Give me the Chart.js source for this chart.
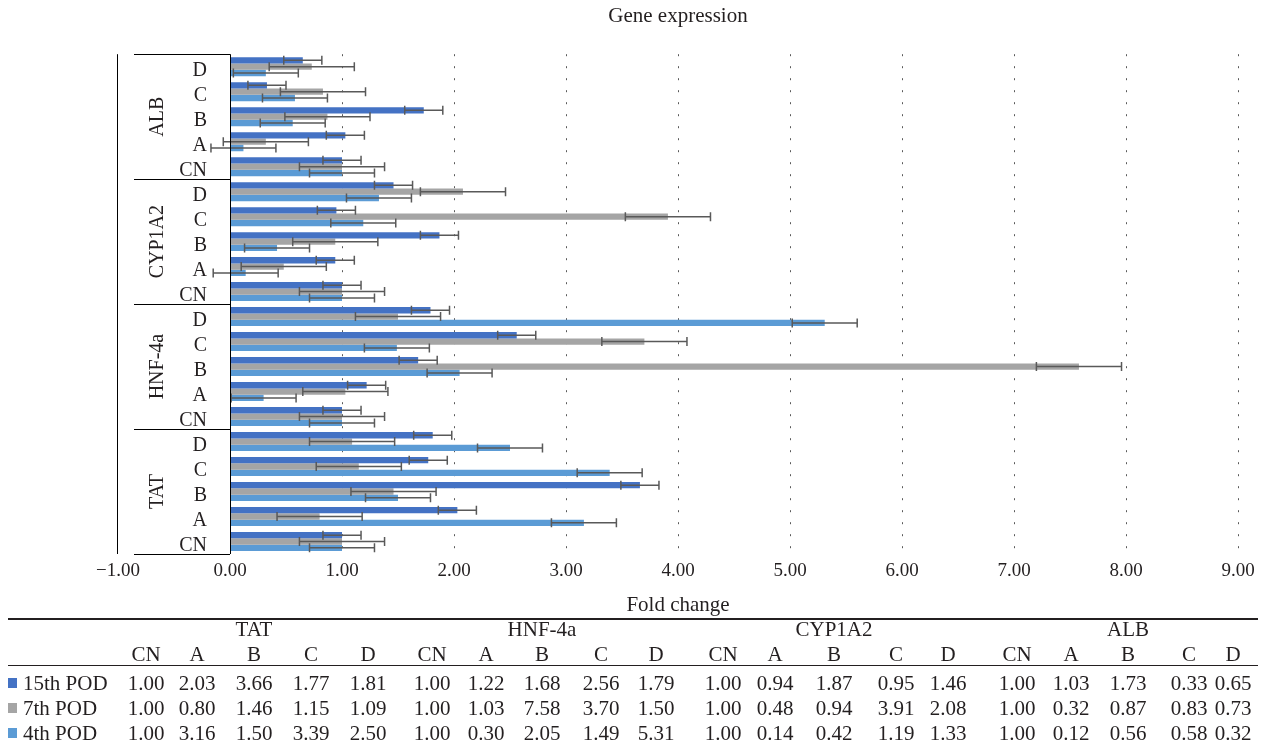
<!DOCTYPE html>
<html>
<head>
<meta charset="utf-8">
<title>Gene expression</title>
<script src="https://cdn.jsdelivr.net/npm/chart.js@4.4.0/dist/chart.umd.min.js"></script>
<style>
  body { margin: 0; background: #fff; }
  #wrap { position: relative; width: 1268px; height: 750px; font-family: "Liberation Serif", serif; color: #231f20; }
  #grafico { position: absolute; left: 0; top: 0; }
  .cel { position: absolute; font-size: 21px; line-height: 20px; white-space: nowrap; transform: translateX(-50%); }
  .rot { position: absolute; font-size: 21px; line-height: 20px; white-space: nowrap; left: 23px; }
  .quad { position: absolute; left: 8px; width: 9px; height: 10px; }
  .linha { position: absolute; left: 8px; width: 1250px; background: #231f20; }
</style>
</head>
<body>
<div id="wrap">
  <canvas id="grafico" width="1268" height="750"></canvas>
  <div id="tabela"></div>
</div>
<script>
const genes = ['TAT', 'HNF-4a', 'CYP1A2', 'ALB'];
const grupos = ['CN', 'A', 'B', 'C', 'D'];
const series = ['15th POD', '7th POD', '4th POD'];
const cores = ['#4472C4', '#A5A5A5', '#5B9BD5'];

const pod15 = [1.00, 2.03, 3.66, 1.77, 1.81, 1.00, 1.22, 1.68, 2.56, 1.79, 1.00, 0.94, 1.87, 0.95, 1.46, 1.00, 1.03, 1.73, 0.33, 0.65];
const pod7  = [1.00, 0.80, 1.46, 1.15, 1.09, 1.00, 1.03, 7.58, 3.70, 1.50, 1.00, 0.48, 0.94, 3.91, 2.08, 1.00, 0.32, 0.87, 0.83, 0.73];
const pod4  = [1.00, 3.16, 1.50, 3.39, 2.50, 1.00, 0.30, 2.05, 1.49, 5.31, 1.00, 0.14, 0.42, 1.19, 1.33, 1.00, 0.12, 0.56, 0.58, 0.32];

// error bars (same size for each series)
const erro15 = [0.17, 0.17, 0.17, 0.17, 0.17, 0.17, 0.17, 0.17, 0.17, 0.17, 0.17, 0.17, 0.17, 0.17, 0.17, 0.17, 0.17, 0.17, 0.17, 0.17];
const erro7  = [0.38, 0.38, 0.38, 0.38, 0.38, 0.38, 0.38, 0.38, 0.38, 0.38, 0.38, 0.38, 0.38, 0.38, 0.38, 0.38, 0.38, 0.38, 0.38, 0.38];
const erro4  = [0.29, 0.29, 0.29, 0.29, 0.29, 0.29, 0.29, 0.29, 0.29, 0.29, 0.29, 0.29, 0.29, 0.29, 0.29, 0.29, 0.29, 0.29, 0.29, 0.29];

const ticksX = [-1, 0, 1, 2, 3, 4, 5, 6, 7, 8, 9];

const rotulos = [];
genes.forEach(g => grupos.forEach(s => rotulos.push(g + ' ' + s)));

function formatar(v) {
  return (v < 0 ? '\u2212' : '') + Math.abs(v).toFixed(2);
}

const eixoCategorias = {
  id: 'eixoCategorias',
  afterDatasetsDraw(chart) {
    const { ctx, scales: { x } } = chart;
    const erros = [erro15, erro7, erro4];
    chart.data.datasets.forEach((ds, i) => {
      const meta = chart.getDatasetMeta(i);
      meta.data.forEach((bar, j) => {
        const v = ds.data[j];
        const e = erros[i][j];
        const x1 = x.getPixelForValue(v - e);
        const x2 = x.getPixelForValue(v + e);
        ctx.save();
        ctx.strokeStyle = '#595959';
        ctx.lineWidth = 1.5;
        ctx.beginPath();
        ctx.moveTo(x1, bar.y); ctx.lineTo(x2, bar.y);
        ctx.moveTo(x1, bar.y - 4.5); ctx.lineTo(x1, bar.y + 4.5);
        ctx.moveTo(x2, bar.y - 4.5); ctx.lineTo(x2, bar.y + 4.5);
        ctx.stroke();
        ctx.restore();
      });
    });
  },
  afterDraw(chart) {
    const { ctx, chartArea, scales: { x, y } } = chart;
    const x0 = x.getPixelForValue(0);
    const xMin = x.getPixelForValue(-1);
    ctx.save();
    ctx.strokeStyle = '#000';
    ctx.lineWidth = 1;
    ctx.beginPath();
    ctx.moveTo(Math.round(x0) + 0.5, chartArea.top); ctx.lineTo(Math.round(x0) + 0.5, chartArea.bottom);
    ctx.moveTo(Math.round(xMin) - 0.5, chartArea.top); ctx.lineTo(Math.round(xMin) - 0.5, chartArea.bottom);
    for (let k = 0; k <= genes.length; k++) {
      const yb = Math.round(y.getPixelForValue(k * grupos.length - 0.5)) + 0.5;
      ctx.moveTo(xMin + 16, yb); ctx.lineTo(x0, yb);
    }
    ctx.stroke();

    ctx.fillStyle = '#231f20';
    ctx.font = '20px "Liberation Serif", serif';
    ctx.textAlign = 'right';
    ctx.textBaseline = 'alphabetic';
    rotulos.forEach((r, i) => {
      const yc = y.getPixelForValue(i);
      ctx.fillText(grupos[i % grupos.length], x0 - 23, yc + 9);
    });

    ctx.textAlign = 'center';
    genes.forEach((g, k) => {
      const yc = (y.getPixelForValue(k * grupos.length - 0.5) + y.getPixelForValue((k + 1) * grupos.length - 0.5)) / 2;
      ctx.save();
      ctx.translate(xMin + 45, yc);
      ctx.rotate(-Math.PI / 2);
      ctx.fillText(g, 0, 0);
      ctx.restore();
    });
    ctx.restore();
  }
};

Chart.defaults.font.family = '"Liberation Serif", serif';
Chart.defaults.color = '#231f20';

new Chart(document.getElementById('grafico'), {
  type: 'bar',
  data: {
    labels: rotulos,
    datasets: [
      { label: series[0], data: pod15, backgroundColor: cores[0] },
      { label: series[1], data: pod7, backgroundColor: cores[1] },
      { label: series[2], data: pod4, backgroundColor: cores[2] }
    ]
  },
  options: {
    indexAxis: 'y',
    responsive: false,
    animation: false,
    categoryPercentage: 0.76,
    barPercentage: 1.0,
    layout: { padding: { left: 118, right: 30, top: 0, bottom: 132 } },
    plugins: {
      legend: { display: false },
      tooltip: { enabled: false },
      title: {
        display: true,
        text: 'Gene expression',
        font: { size: 21, weight: 'normal' },
        color: '#231f20',
        padding: { top: 4, bottom: 25 }
      }
    },
    scales: {
      x: {
        min: ticksX[0],
        max: ticksX[ticksX.length - 1],
        afterBuildTicks(axis) { axis.ticks = ticksX.map(v => ({ value: v })); },
        ticks: {
          padding: 6,
          font: { size: 19 },
          color: '#231f20',
          callback: v => formatar(v)
        },
        grid: {
          drawTicks: false,
          lineWidth: 1,
          color: ctx => (ctx.tick && ctx.tick.value > 0) ? '#595959' : 'rgba(0,0,0,0)'
        },
        border: { display: false, dash: [2, 10] },
        title: {
          display: true,
          text: 'Fold change',
          font: { size: 21 },
          color: '#231f20',
          padding: { top: 4, bottom: 0 }
        }
      },
      y: {
        display: false,
        reverse: true
      }
    }
  },
  plugins: [eixoCategorias]
});

// data table under the chart
const tabela = document.getElementById('tabela');
const colunas = [146, 197, 254, 311, 368, 432, 486, 542, 601, 656, 723, 775, 834, 896, 948, 1017, 1071, 1128, 1189, 1233];
const valores = [pod15, pod7, pod4];
let html = '<div class="linha" style="top:618px;height:2px"></div>';
html += '<div class="linha" style="top:665px;height:1px"></div>';
genes.forEach((g, k) => {
  html += `<span class="cel" style="top:619px;left:${colunas[k * 5 + 2]}px">${g}</span>`;
});
rotulos.forEach((r, i) => {
  html += `<span class="cel" style="top:644px;left:${colunas[i]}px">${grupos[i % 5]}</span>`;
});
series.forEach((s, k) => {
  const topo = 673 + k * 25;
  html += `<div class="quad" style="top:${topo + 5}px;background:${cores[k]}"></div>`;
  html += `<span class="rot" style="top:${topo}px">${s}</span>`;
  valores[k].forEach((v, i) => {
    html += `<span class="cel" style="top:${topo}px;left:${colunas[i]}px">${v.toFixed(2)}</span>`;
  });
});
tabela.innerHTML = html;
</script>
</body>
</html>
